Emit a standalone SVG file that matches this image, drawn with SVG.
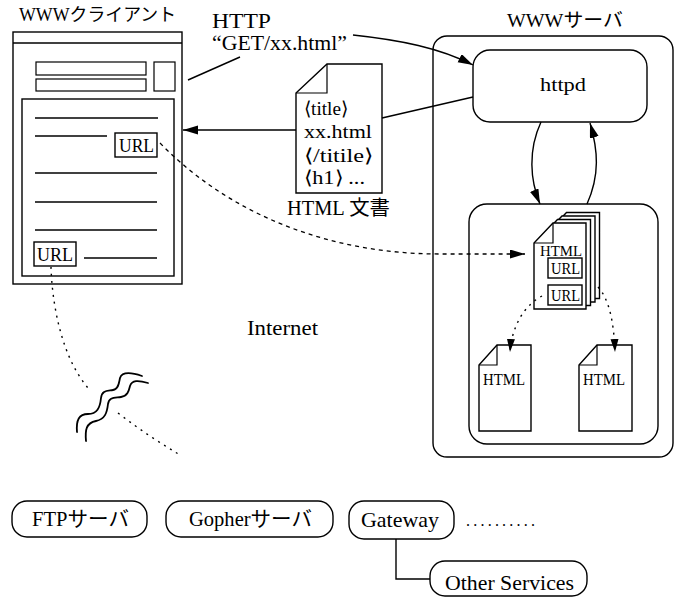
<svg xmlns="http://www.w3.org/2000/svg" width="674" height="597" viewBox="0 0 674 597">
  <defs>
    <marker id="arrow" markerUnits="userSpaceOnUse" markerWidth="16" markerHeight="10" refX="15" refY="4.5" orient="auto">
      <path d="M0,0 L15,4.5 L0,9 Z" fill="#000"/>
    </marker>
    <marker id="arrowSm" markerUnits="userSpaceOnUse" markerWidth="14" markerHeight="9" refX="13" refY="4" orient="auto">
      <path d="M0,0 L13,4 L0,8 Z" fill="#000"/>
    </marker>
  </defs>
  <style>
    text { font-family: "Liberation Serif", "Noto Sans CJK JP", serif; fill: #000; }
    .ln { fill: none; stroke: #000; stroke-width: 1.4; }
    .box { fill: #fff; stroke: #000; stroke-width: 1.4; }
    .thin { fill: none; stroke: #000; stroke-width: 1.2; }
    .dash { fill: none; stroke: #000; stroke-width: 1.3; stroke-dasharray: 4 4; }
    .dot { fill: none; stroke: #000; stroke-width: 1.4; stroke-dasharray: 2 5; }
    .pill { fill: #fff; stroke: #000; stroke-width: 1.4; }
    .wave { fill: none; stroke: #000; stroke-width: 1.8; stroke-linecap: round; }
  </style>
  <rect width="674" height="597" fill="#fff"/>

  <!-- WWW client window -->
  <g id="client">
    <text x="19" y="21" font-size="18" textLength="157" lengthAdjust="spacingAndGlyphs">WWWクライアント</text>
    <rect class="box" x="13" y="32" width="169" height="252"/>
    <line class="ln" x1="13" y1="43" x2="182" y2="43"/>
    <rect class="thin" x="36" y="62" width="110" height="13"/>
    <rect class="thin" x="36" y="79" width="110" height="12"/>
    <rect class="thin" x="154" y="62" width="21" height="29"/>
    <rect class="box" x="22" y="99" width="152" height="177"/>
    <line class="ln" x1="35" y1="118" x2="158" y2="118"/>
    <line class="ln" x1="35" y1="136" x2="107" y2="136"/>
    <rect class="box" x="115" y="133" width="42" height="24"/>
    <text x="119" y="152" font-size="19" textLength="35" lengthAdjust="spacingAndGlyphs">URL</text>
    <line class="ln" x1="35" y1="173" x2="157" y2="173"/>
    <line class="ln" x1="35" y1="202" x2="157" y2="202"/>
    <line class="ln" x1="35" y1="230" x2="157" y2="230"/>
    <rect class="box" x="34" y="242" width="42" height="24"/>
    <text x="37" y="261" font-size="19" textLength="36" lengthAdjust="spacingAndGlyphs">URL</text>
    <line class="ln" x1="84" y1="258" x2="157" y2="258"/>
  </g>

  <!-- request label -->
  <g id="http-request">
    <text x="212" y="28" font-size="20" textLength="59" lengthAdjust="spacingAndGlyphs">HTTP</text>
    <text x="212" y="50" font-size="20" textLength="135" lengthAdjust="spacingAndGlyphs">“GET/xx.html”</text>
  </g>

  <!-- HTML document in transit -->
  <g id="html-document">
    <path class="box" d="M327,64 L382,64 L382,193 L296,193 L296,93 Z"/>
    <path class="thin" d="M327,64 L327,93 L296,93"/>
    <text x="304" y="115" font-size="19" textLength="44" lengthAdjust="spacingAndGlyphs">⟨title⟩</text>
    <text x="304" y="138" font-size="19" textLength="68" lengthAdjust="spacingAndGlyphs">xx.html</text>
    <text x="304" y="162" font-size="19" textLength="69" lengthAdjust="spacingAndGlyphs">⟨/titile⟩</text>
    <text x="304" y="184" font-size="19" textLength="61" lengthAdjust="spacingAndGlyphs">⟨h1⟩ ...</text>
    <text x="287" y="215" font-size="20" textLength="103" lengthAdjust="spacingAndGlyphs">HTML 文書</text>
  </g>

  <!-- WWW server -->
  <g id="server">
    <text x="507" y="27" font-size="19" textLength="116" lengthAdjust="spacingAndGlyphs">WWWサーバ</text>
    <rect class="box" x="433" y="36" width="240" height="421" rx="14"/>
  </g>
  <g id="httpd">
    <rect class="box" x="473" y="50" width="174" height="72" rx="17"/>
    <text x="540" y="91" font-size="19" textLength="46" lengthAdjust="spacingAndGlyphs">httpd</text>
  </g>
  <g id="doc-store">
    <rect class="box" x="469" y="204" width="189" height="240" rx="18"/>
  </g>

  <!-- stacked pages with links -->
  <g id="page-stack">
    <path class="box" d="M566.5,212.5 L599.5,212.5 L599.5,298.5 L547.5,298.5 L547.5,232.5 Z"/>
    <path class="box" d="M562,216 L595,216 L595,302 L543,302 L543,236 Z"/>
    <path class="box" d="M557.5,219.5 L590.5,219.5 L590.5,305.5 L538.5,305.5 L538.5,239.5 Z"/>
    <path class="box" d="M553,223 L586,223 L586,309 L534,309 L534,243 Z"/>
    <path class="thin" d="M553,223 L553,243 L534,243"/>
    <text x="540" y="256" font-size="15" textLength="42" lengthAdjust="spacingAndGlyphs">HTML</text>
    <rect class="box" x="548" y="258" width="34" height="20"/>
    <text x="551" y="274" font-size="16" textLength="29" lengthAdjust="spacingAndGlyphs">URL</text>
    <rect class="box" x="548" y="285" width="34" height="20"/>
    <text x="551" y="301" font-size="16" textLength="29" lengthAdjust="spacingAndGlyphs">URL</text>
  </g>
  <g id="page-left">
    <path class="box" d="M497,345 L531,345 L531,431 L479,431 L479,365 Z"/>
    <path class="thin" d="M497,345 L497,365 L479,365"/>
    <text x="483" y="385" font-size="17" textLength="42" lengthAdjust="spacingAndGlyphs">HTML</text>
  </g>
  <g id="page-right">
    <path class="box" d="M597,345 L632,345 L632,431 L579,431 L579,365 Z"/>
    <path class="thin" d="M597,345 L597,365 L579,365"/>
    <text x="583" y="385" font-size="17" textLength="42" lengthAdjust="spacingAndGlyphs">HTML</text>
  </g>

  <text id="internet" x="247" y="335" font-size="20" textLength="71" lengthAdjust="spacingAndGlyphs">Internet</text>

  <!-- break mark in the long-distance link -->
  <g id="break-mark">
    <path class="wave" d="M77,432 C76,420 79,414 88,414 C97,414 100,408 101,398 C102,390 107,391 113,390 C119,389 119,382 120,378 C122,372 130,372 142,376"/>
    <path class="wave" d="M86,441 C85,430 86,423 96,421 C105,419 107,413 108,404 C109,397 114,398 121,397 C128,396 129,390 130,386 C132,380 138,380 148,383"/>
  </g>

  <!-- other services -->
  <g id="ftp">
    <rect class="pill" x="12" y="501" width="135" height="36" rx="15"/>
    <text x="32" y="526" font-size="21" textLength="97" lengthAdjust="spacingAndGlyphs">FTPサーバ</text>
  </g>
  <g id="gopher">
    <rect class="pill" x="166" y="501" width="167" height="36" rx="15"/>
    <text x="189" y="526" font-size="21" textLength="123" lengthAdjust="spacingAndGlyphs">Gopherサーバ</text>
  </g>
  <g id="gateway">
    <rect class="pill" x="349" y="501" width="105" height="38" rx="15"/>
    <text x="361" y="527" font-size="21" textLength="78" lengthAdjust="spacingAndGlyphs">Gateway</text>
  </g>
  <text id="more" x="466" y="526" font-size="16" textLength="69" lengthAdjust="spacing">..........</text>
  <g id="other-services">
    <rect class="pill" x="430" y="561" width="157" height="35" rx="15"/>
    <text x="445" y="590" font-size="21" textLength="129" lengthAdjust="spacingAndGlyphs">Other Services</text>
  </g>

  <!-- connectors -->
  <g id="connectors">
    <line class="ln" x1="188" y1="80" x2="240" y2="57"/>
    <path class="ln" d="M353,35 C400,40 440,48 473,65" marker-end="url(#arrow)"/>
    <path class="ln" d="M473,97 L382,118"/>
    <line class="ln" x1="296" y1="130" x2="183" y2="130" marker-end="url(#arrow)"/>
    <path class="ln" d="M541,122 C528,150 530,180 540,204" marker-end="url(#arrow)"/>
    <path class="ln" d="M587,204 C600,175 598,150 590,123" marker-end="url(#arrow)"/>
    <path class="dash" d="M160,143 C230,215 330,254 440,254 L525,254" marker-end="url(#arrow)"/>
    <path class="dot" d="M542,296 C525,305 512,325 510,352" marker-end="url(#arrowSm)"/>
    <path class="dot" d="M598,287 C610,300 614,325 615,352" marker-end="url(#arrowSm)"/>
    <path class="dot" d="M51,267 C52,300 60,355 88,388"/>
    <path class="dot" d="M118,413 C140,430 160,443 180,455"/>
    <path class="ln" d="M396,539 L396,579 L430,579"/>
  </g>
</svg>
